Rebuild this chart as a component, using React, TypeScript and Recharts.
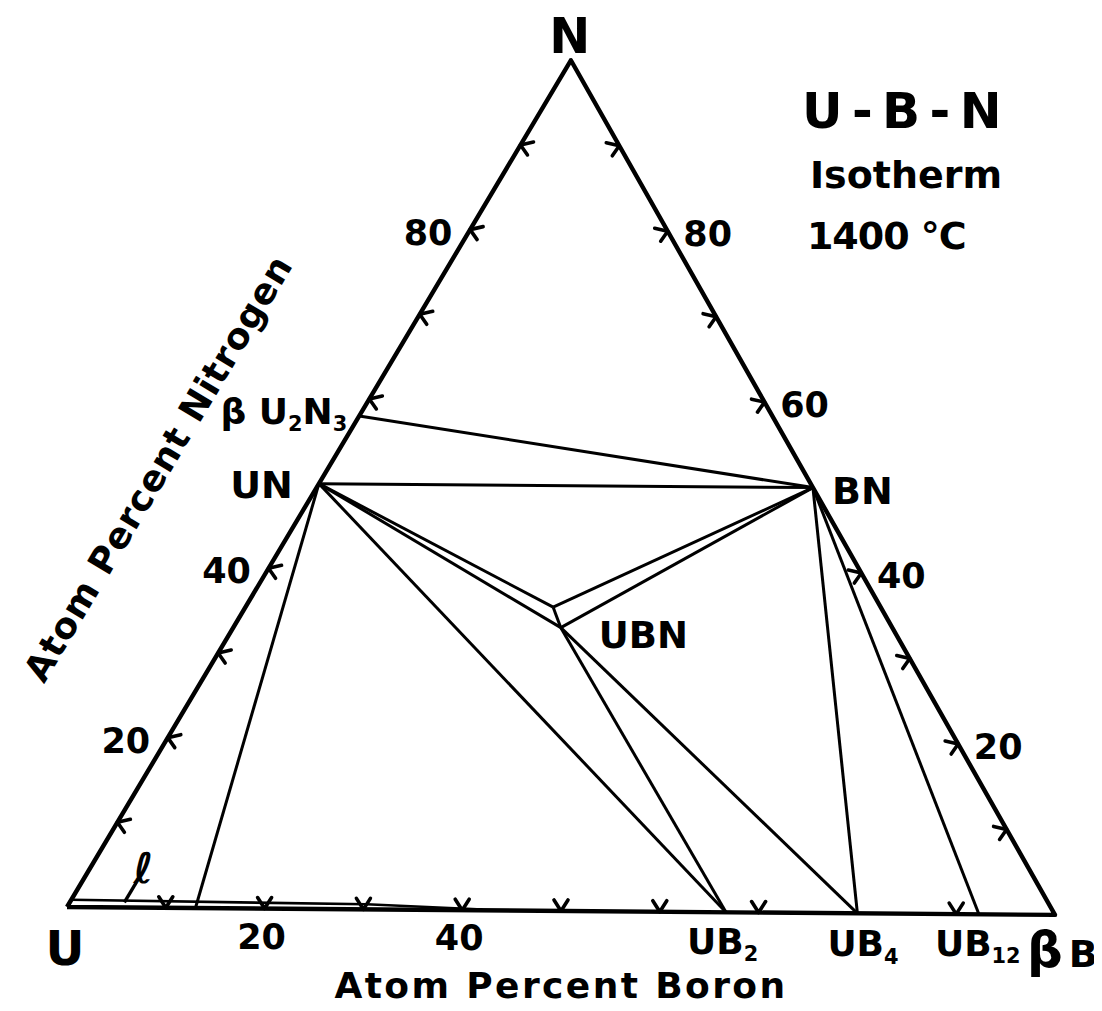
import React from "react";
import { Scatter, ScatterChart, XAxis, YAxis } from "recharts";

const WIDTH = 1094;
const HEIGHT = 1000;
const FONT = "'DejaVu Sans', sans-serif";

// Compositions are atom % boron (b) and nitrogen (n); uranium is the rest.
const phases = [
  { name: "UN", b: 0, n: 50 },
  { name: "βU2N3", b: 0, n: 58 },
  { name: "BN", b: 50, n: 50 },
  { name: "UBN", b: 33, n: 33.3 },
  { name: "UBN-rich", b: 31, n: 35.7 },
  { name: "UB2", b: 66.7, n: 0 },
  { name: "UB4", b: 80, n: 0 },
  { name: "UB12", b: 92.3, n: 0 },
  { name: "L", b: 13, n: 0 },
];

const tieLines: [string, string][] = [
  ["βU2N3", "BN"],
  ["UN", "BN"],
  ["UN", "UBN-rich"],
  ["UN", "UBN"],
  ["BN", "UBN-rich"],
  ["BN", "UBN"],
  ["UBN-rich", "UBN"],
  ["UN", "UB2"],
  ["UN", "L"],
  ["UBN", "UB2"],
  ["UBN", "UB4"],
  ["BN", "UB4"],
  ["BN", "UB12"],
];

// liquid uranium region along the U–B side, and the pointer to its label
const liquidEdge = [
  { b: 0, n: 0.85 },
  { b: 30, n: 0.6 },
  { b: 42, n: 0.1 },
];
const liquidPointer = [
  { b: 5.5, n: 0.6 },
  { b: 5.5, n: 3.0 },
];

const sideTicks = [10, 20, 30, 40, 60, 70, 80, 90];
const boronTicks = [10, 20, 30, 40, 50, 60, 70, 90];
const leftTickLabels = [20, 40, 80];
const rightTickLabels = [20, 40, 60, 80];
const boronTickLabels = [20, 40];

const cornerLabels = [
  { text: "U", b: 0, n: 0 },
  { text: "N", b: 0, n: 100 },
  { text: "βB", b: 100, n: 0 },
];
const phaseLabels = ["UN", "βU2N3", "BN", "UBN", "UB2", "UB4", "UB12"];

// ---- geometry of the drawing plane ----
const PX = 9.88; // pixels per plane unit
const ORIGIN = { x: 59, y: 899 }; // pure U inside the chart box
const B_CORNER = { x: 100, y: -0.8 };
const N_CORNER = { x: 51, y: 85.7 };
const EDGE_ANGLE = (Math.atan2(-N_CORNER.y, N_CORNER.x) * 180) / Math.PI;

const plane = (b: number, n: number) => ({
  x: (b * B_CORNER.x + n * N_CORNER.x) / 100,
  y: (b * B_CORNER.y + n * N_CORNER.y) / 100,
});
const phase = (name: string) => {
  const p = phases.find((q) => q.name === name)!;
  return plane(p.b, p.n);
};

type Placement = { dx: number; dy: number; anchor: "start" | "middle" | "end"; size: number; lead?: number };

const labelPlacement: Record<string, Placement> = {
  U: { dx: -2, dy: 58, anchor: "middle", size: 48 },
  N: { dx: -1, dy: -7, anchor: "middle", size: 49 },
  βB: { dx: -28, dy: 52, anchor: "start", size: 38, lead: 50 },
  UN: { dx: -26, dy: 14, anchor: "end", size: 38 },
  βU2N3: { dx: -12, dy: 8, anchor: "end", size: 36 },
  BN: { dx: 19, dy: 16, anchor: "start", size: 38 },
  UBN: { dx: 38, dy: 20, anchor: "start", size: 37 },
  UB2: { dx: -39, dy: 42, anchor: "start", size: 36 },
  UB4: { dx: -30, dy: 43, anchor: "start", size: 36 },
  UB12: { dx: -44, dy: 42, anchor: "start", size: 36 },
};

const noDot = () => <g />;

function chemParts(text: string, size: number) {
  const parts = text.split(/(\d+)/).filter((p) => p.length > 0);
  let shifted = false;
  return parts.map((p, i) => {
    const sub = /^\d+$/.test(p);
    const dy = sub ? (shifted ? 0 : size * 0.2) : shifted ? -size * 0.2 : 0;
    shifted = sub;
    return (
      <tspan key={i} dy={dy} fontSize={sub ? size * 0.58 : size}>
        {p}
      </tspan>
    );
  });
}

const renderLabel = (props: any) => {
  const { cx, cy, payload } = props;
  const key = payload.key as string;
  const pl = labelPlacement[key];
  const shown = key === "βU2N3" ? "β U2N3" : key;
  let content: React.ReactNode = chemParts(shown, pl.size);
  if (pl.lead) {
    content = [
      <tspan key="a" fontSize={pl.lead}>{shown[0]}</tspan>,
      <tspan key="b" dx={6}>{shown.slice(1)}</tspan>,
    ];
  }
  return (
    <text x={cx + pl.dx} y={cy + pl.dy} fontSize={pl.size} textAnchor={pl.anchor} fontFamily={FONT} fontWeight="bold" fill="#000">
      {content}
    </text>
  );
};

// arrow-head ticks on the three sides
const tickShape = (side: "left" | "right" | "bottom") => (props: any) => {
  const { cx, cy } = props;
  let d = "";
  if (side === "left") d = `M${cx + 13},${cy - 3} L${cx},${cy} L${cx + 7},${cy + 10}`;
  if (side === "right") d = `M${cx - 13},${cy - 3} L${cx},${cy} L${cx - 7},${cy + 10}`;
  if (side === "bottom") d = `M${cx - 7},${cy - 11} L${cx},${cy} L${cx + 7},${cy - 11}`;
  return <path d={d} fill="none" stroke="#000" strokeWidth={3.6} strokeLinejoin="round" strokeLinecap="round" />;
};

const tickLabel = (dx: number, dy: number) => (props: any) => {
  const { cx, cy, payload } = props;
  return (
    <text x={cx + dx} y={cy + dy} fontSize={35} textAnchor="middle" dominantBaseline="central" fontFamily={FONT} fontWeight="bold" fill="#000">
      {payload.value}
    </text>
  );
};

const boronTitle = (props: any) => (
  <text x={props.cx} y={props.cy + 87} fontSize={36} textAnchor="middle" letterSpacing={2.4} fontFamily={FONT} fontWeight="bold" fill="#000">
    Atom Percent Boron
  </text>
);

const nitrogenTitle = (props: any) => (
  <text
    transform={`translate(${props.cx},${props.cy}) rotate(${EDGE_ANGLE})`}
    y={-146}
    fontSize={36}
    textAnchor="middle"
    dominantBaseline="central"
    letterSpacing={1}
    fontFamily={FONT}
    fontWeight="bold"
    fill="#000"
  >
    Atom Percent Nitrogen
  </text>
);

// system name and temperature, hung off the nitrogen corner
const titleBlock = (props: any) => {
  const x = props.cx;
  const y = props.cy;
  return (
    <g fontFamily={FONT} fontWeight="bold" fill="#000">
      <text x={x + 231} y={y + 68} fontSize={50} letterSpacing={-4}>
        U - B - N
      </text>
      <text x={x + 239} y={y + 128} fontSize={38}>
        Isotherm
      </text>
      <text x={x + 236} y={y + 189} fontSize={38} letterSpacing={-1}>
        1400 °C
      </text>
    </g>
  );
};

const liquidLabel = (props: any) => (
  <text x={props.cx - 3} y={props.cy + 1} fontSize={42} fontStyle="italic" fontFamily={FONT} fontWeight="bold" fill="#000">
    ℓ
  </text>
);

export default function App() {
  const xDomain = [-ORIGIN.x / PX, (WIDTH - ORIGIN.x) / PX];
  const yDomain = [-(HEIGHT - ORIGIN.y) / PX, ORIGIN.y / PX];

  const triangle = [plane(0, 0), plane(100, 0), plane(0, 100), plane(0, 0)];
  const leftTicks = sideTicks.map((n) => plane(0, n));
  const rightTicks = sideTicks.map((n) => plane(100 - n, n));
  const bottomTicks = boronTicks.map((b) => plane(b, 0));
  const labelPoints = [
    ...cornerLabels.map((c) => ({ ...plane(c.b, c.n), key: c.text })),
    ...phaseLabels.map((name) => ({ ...phase(name), key: name })),
  ];
  const thin = { stroke: "#000", strokeWidth: 3, strokeLinejoin: "round" as const };

  return (
    <ScatterChart width={WIDTH} height={HEIGHT} margin={{ top: 0, right: 0, bottom: 0, left: 0 }}>
      <XAxis type="number" dataKey="x" domain={xDomain} allowDataOverflow hide />
      <YAxis type="number" dataKey="y" domain={yDomain} allowDataOverflow hide />

      <Scatter data={triangle} line={{ stroke: "#000", strokeWidth: 4.4, strokeLinejoin: "round" }} shape={noDot} isAnimationActive={false} />
      {tieLines.map(([a, b]) => (
        <Scatter key={a + b} data={[phase(a), phase(b)]} line={thin} shape={noDot} isAnimationActive={false} />
      ))}
      <Scatter data={liquidEdge.map((p) => plane(p.b, p.n))} line={{ stroke: "#000", strokeWidth: 2.6 }} shape={noDot} isAnimationActive={false} />
      <Scatter data={liquidPointer.map((p) => plane(p.b, p.n))} line={{ stroke: "#000", strokeWidth: 3.4 }} shape={noDot} isAnimationActive={false} />

      <Scatter data={leftTicks} shape={tickShape("left")} isAnimationActive={false} />
      <Scatter data={rightTicks} shape={tickShape("right")} isAnimationActive={false} />
      <Scatter data={bottomTicks} shape={tickShape("bottom")} isAnimationActive={false} />

      <Scatter data={leftTickLabels.map((n) => ({ ...plane(0, n), value: n }))} shape={tickLabel(-42, 3)} isAnimationActive={false} />
      <Scatter data={rightTickLabels.map((n) => ({ ...plane(100 - n, n), value: n }))} shape={tickLabel(40, 3)} isAnimationActive={false} />
      <Scatter data={boronTickLabels.map((b) => ({ ...plane(b, 0), value: b }))} shape={tickLabel(-3, 28)} isAnimationActive={false} />

      <Scatter data={labelPoints} shape={renderLabel} isAnimationActive={false} />
      <Scatter data={[plane(liquidPointer[1].b, liquidPointer[1].n)]} shape={liquidLabel} isAnimationActive={false} />
      <Scatter data={[plane(50, 0)]} shape={boronTitle} isAnimationActive={false} />
      <Scatter data={[plane(0, 43)]} shape={nitrogenTitle} isAnimationActive={false} />
      <Scatter data={[plane(0, 100)]} shape={titleBlock} isAnimationActive={false} />
    </ScatterChart>
  );
}
